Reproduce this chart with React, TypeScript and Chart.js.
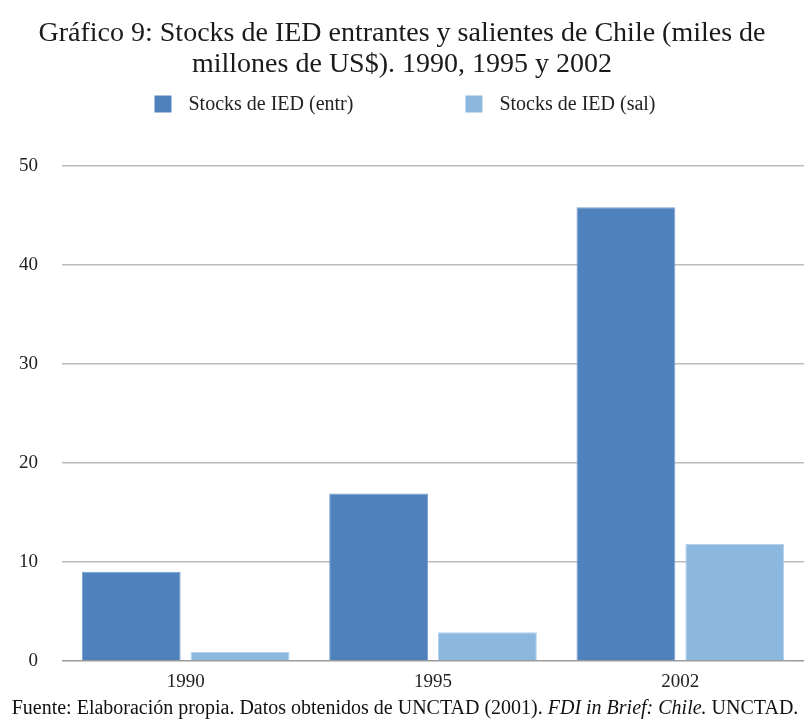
import React, { useEffect, useRef } from "react";
import { Chart, registerables } from "chart.js";

Chart.register(...registerables);

const categories = ["1990", "1995", "2002"];
const stocksEntrantes = [9, 16.9, 45.8];
const stocksSalientes = [0.9, 2.9, 11.8];
const seriesLabels = ["Stocks de IED (entr)", "Stocks de IED (sal)"];
const titleLines = [
  "Gráfico 9: Stocks de IED entrantes y salientes de Chile (miles de",
  "millones de US$). 1990, 1995 y 2002",
];
const footerParts = [
  { text: "Fuente: Elaboración propia. Datos obtenidos de UNCTAD (2001). ", italic: false },
  { text: "FDI in Brief: Chile.", italic: true },
  { text: " UNCTAD.", italic: false },
];

const SERIF = "'Liberation Serif', 'Times New Roman', serif";
const COLOR_ENTR = "#4f81bd";
const COLOR_SAL = "#8cb8df";

const legendFooterPlugin = {
  id: "legendFooter",
  afterDraw(chart: any) {
    const ctx = chart.ctx as CanvasRenderingContext2D;
    ctx.save();
    // Legend
    ctx.font = `20px ${SERIF}`;
    const box = 17;
    const boxGap = 17;
    const itemGap = 112;
    const items = chart.data.datasets.map((ds: any) => ({
      label: ds.label,
      color: ds.backgroundColor,
      w: ctx.measureText(ds.label).width,
    }));
    const total =
      items.reduce((s: number, it: any) => s + box + boxGap + it.w, 0) +
      itemGap * (items.length - 1);
    let x = 405 - total / 2;
    const cy = 104;
    ctx.textBaseline = "middle";
    ctx.textAlign = "left";
    items.forEach((it: any) => {
      ctx.fillStyle = it.color;
      ctx.fillRect(x, cy - box / 2, box, box);
      x += box + boxGap;
      ctx.fillStyle = "#222";
      ctx.fillText(it.label, x, cy + 1);
      x += it.w + itemGap;
    });

    // Footer
    const size = 20;
    const normal = `${size}px ${SERIF}`;
    const italic = `italic ${size}px ${SERIF}`;
    let fw = 0;
    footerParts.forEach((p) => {
      ctx.font = p.italic ? italic : normal;
      fw += ctx.measureText(p.text).width;
    });
    let fx = 405 - fw / 2;
    const fy = 709;
    footerParts.forEach((p) => {
      ctx.font = p.italic ? italic : normal;
      ctx.fillStyle = "#111";
      ctx.fillText(p.text, fx, fy);
      fx += ctx.measureText(p.text).width;
    });
    ctx.restore();
  },
};

export default function App() {
  const ref = useRef<HTMLCanvasElement | null>(null);

  useEffect(() => {
    if (!ref.current) return;
    const chart = new Chart(ref.current, {
      type: "bar",
      data: {
        labels: categories,
        datasets: [
          {
            label: seriesLabels[0],
            data: stocksEntrantes,
            backgroundColor: COLOR_ENTR,
            borderColor: "#78a0d0",
            borderWidth: 1,
            categoryPercentage: 0.88,
            barPercentage: 0.908,
          },
          {
            label: seriesLabels[1],
            data: stocksSalientes,
            backgroundColor: COLOR_SAL,
            borderColor: "#b3d1ec",
            borderWidth: 1,
            categoryPercentage: 0.88,
            barPercentage: 0.908,
          },
        ],
      },
      options: {
        animation: false,
        responsive: false,
        maintainAspectRatio: false,
        layout: { padding: { left: 0, right: 0, top: 0, bottom: 30 } },
        plugins: {
          legend: { display: false },
          tooltip: { enabled: false },
          title: {
            display: true,
            text: titleLines,
            color: "#1a1a1a",
            font: { family: SERIF, size: 28, weight: "normal", lineHeight: 1.1 },
            padding: { top: 18.5, bottom: 85.5 },
          },
        },
        scales: {
          x: {
            grid: { display: false, drawTicks: false },
            border: { display: false },
            ticks: {
              color: "#222",
              font: { family: SERIF, size: 19 },
              padding: 10,
            },
            afterFit(scale: any) {
              scale.height = 31;
            },
          },
          y: {
            min: 0,
            max: 50,
            grid: {
              drawTicks: false,
              color: (c: any) => (c.tick && c.tick.value === 0 ? "#9a9a9a" : "#bcbcbc"),
              lineWidth: 1.5,
            },
            border: { display: false },
            ticks: {
              stepSize: 10,
              color: "#222",
              font: { family: SERIF, size: 19 },
              padding: 24,
            },
            afterFit(scale: any) {
              scale.width = 62;
            },
          },
        },
      },
      plugins: [legendFooterPlugin],
    });
    return () => chart.destroy();
  }, []);

  return (
    <div style={{ position: "absolute", left: 0, top: 0, width: 804, height: 722, background: "#fff" }}>
      <canvas ref={ref} width={804} height={722} style={{ width: 804, height: 722 }} />
    </div>
  );
}
